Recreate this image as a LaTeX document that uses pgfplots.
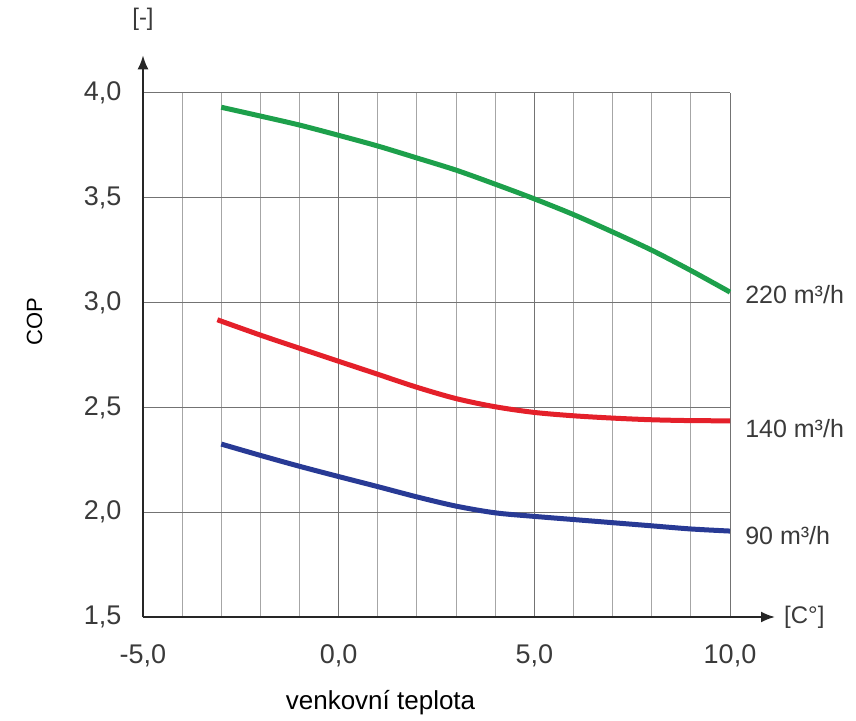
\documentclass[border=0pt]{standalone}
\usepackage{fontspec}
\setmainfont{Liberation Sans}
\usepackage{pgfplots}
\pgfplotsset{compat=1.18}
\usetikzlibrary{arrows.meta}
\definecolor{cgreen}{HTML}{1DA04B}
\definecolor{cred}{HTML}{E4202A}
\definecolor{cblue}{HTML}{283A95}
\definecolor{ctext}{HTML}{3A3A3A}
\begin{document}
\begin{tikzpicture}
\path[use as bounding box] (-143pt,-103pt) rectangle (713pt,617pt);
\begin{axis}[
  at={(0,0)}, anchor=south west,
  scale only axis, width=587pt, height=524pt,
  xmin=-5, xmax=10, ymin=1.5, ymax=4,
  axis lines=left,
  axis line style={draw=none},
  clip=false,
  xtick={-5,0,5,10},
  xticklabels={{-5,0},{0,0},{5,0},{10,0}},
  minor xtick={-4,-3,-2,-1,1,2,3,4,6,7,8,9},
  ytick={1.5,2,2.5,3,3.5,4},
  yticklabels={{1,5},{2,0},{2,5},{3,0},{3,5},{4,0}},
  major tick length=0pt, minor tick length=0pt,
  grid=both,
  major grid style={draw=black!55, line width=1pt},
  minor grid style={draw=black!35, line width=1pt},
  tick label style={font=\fontsize{27}{30}\selectfont, text=ctext},
  xticklabel style={yshift=-24pt},
  yticklabel style={xshift=-18pt},
]
\addplot[cgreen, line width=5pt, smooth] coordinates {
(-3,3.932) (-2,3.89) (-1,3.847) (0,3.798) (1,3.747) (2,3.69) (3,3.632) (4,3.565)
(5,3.495) (6,3.42) (7,3.337) (8,3.25) (9,3.153) (10,3.05)};
\addplot[cred, line width=5pt, smooth] coordinates {
(-3.1,2.918) (-2,2.845) (-1,2.782) (0,2.72) (1,2.658) (2,2.596) (3,2.542) (4,2.503)
(5,2.476) (6,2.46) (7,2.449) (8,2.441) (9,2.437) (10,2.436)};
\addplot[cblue, line width=5pt, smooth] coordinates {
(-3,2.325) (-2,2.271) (-1,2.219) (0,2.17) (1,2.122) (2,2.073) (3,2.029) (4,1.997)
(5,1.98) (6,1.965) (7,1.95) (8,1.935) (9,1.92) (10,1.91)};
\draw[black!85, line width=2pt, -{Latex[length=14pt,width=11pt]}] (axis cs:-5,1.5) -- (axis cs:11.15,1.5);
\draw[black!85, line width=2pt, -{Latex[length=14pt,width=11pt]}] (axis cs:-5,1.5) -- (axis cs:-5,4.18);
\node[anchor=west, text=ctext, font=\fontsize{25}{27}\selectfont] at (axis cs:10.3,3.04) {220 m³/h};
\node[anchor=west, text=ctext, font=\fontsize{25}{27}\selectfont] at (axis cs:10.3,2.40) {140 m³/h};
\node[anchor=west, text=ctext, font=\fontsize{25}{27}\selectfont] at (axis cs:10.3,1.89) {90 m³/h};
\node[text=ctext, font=\fontsize{24}{26}\selectfont] at (axis cs:11.9,1.5) {[C°]};
\node[text=ctext, font=\fontsize{24}{26}\selectfont] at (axis cs:-5,4.35) {[-]};
\node[rotate=90, text=black, font=\fontsize{22}{24}\selectfont] at (axis cs:-7.77,2.91) {COP};
\node[text=black, font=\fontsize{26}{28}\selectfont] at (axis cs:1.07,1.09) {venkovní teplota};
\end{axis}
\end{tikzpicture}
\end{document}
